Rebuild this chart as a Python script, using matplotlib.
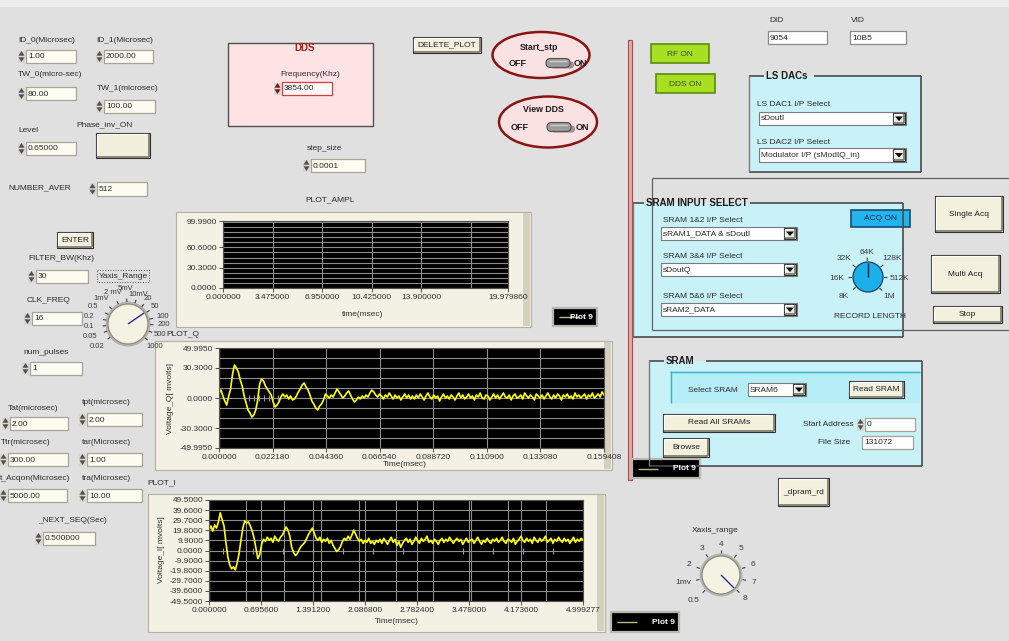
import numpy as np
import matplotlib
matplotlib.use("Agg")
import matplotlib.pyplot as plt
from matplotlib.patches import Rectangle, Ellipse, Circle, Polygon, FancyBboxPatch

# ---- values ----
# PLOT_Q : Voltage_Q (mV), evenly sampled from 0 to q_end msec
q_end = 0.159408
q_vals = [5, 8, 2, -3, -7, 2, 9, 24, 33, 30,
          26, 18, 12, 2, -5, -12, -15, -19, -17, -12,
          -2, 14, 19, 17, 12, 9, 6, 3, -4, -9,
          -7, -4, 1, 4, 1, 3, -1, 2, -2, -1,
          2, 6, 9, 13, 15, 11, 8, 3, -3, -6,
          -10, -12, -8, -6, -2, 4, 2, 0, 3, 1,
          5, 9, 6, 3, 0, 2, 5, 7, 3, -1,
          -4, -2, 1, -1, 2, 0, 3, 1, 5, 8,
          6, 3, 1, 4, 2, -1, 3, 1, 5, 2,
          -1, 3, 0, 2, -2, 1, 4, 0, 3, -1,
          2, -1, 3, 0, 4, 1, -2, 2, 5, 1,
          -1, 3, 0, 2, -3, 1, 4, 0, 2, -1,
          3, 1, -2, 2, 5, 0, 3, -1, 1, 4,
          0, 2, -2, 3, 1, 5, 0, -1, 3, 2,
          -2, 1, 4, 0, 3, -1, 2, 5, 1, 0,
          3, -2, 2, 4, 0, 1, 3, -1, 5, 2,
          0, 3, 1, -2, 4, 2, 0, 3, -1, 2,
          5, 1, -1, 3, 0, 4, 2, -2, 3, 1,
          4, 0, 2, -1, 5, 1, 3, 0, 2, 4,
          -1, 3, 1, 5, 0, 2, 4, 1, 6, 3]
q_spike = [-49.995, 49.995]
q_marks = [0.0125, 0.0145, 0.0165, 0.0185, 0.0205, 0.0225, 0.0245]
q_xticks = [0.0, 0.02218, 0.04436, 0.06654, 0.08872, 0.1109, 0.13308, 0.159408]
q_yticks = [49.995, 30.3, 0.0, -30.3, -49.995]

# PLOT_I : Voltage_I (mV), evenly sampled from 0 to i_end msec
i_end = 4.999277
i_vals = [20, 24, 19, 25, 22, 28, 37, 30, 24, 8,
          -6, -14, -18, -16, -19, -12, -3, 10, 22, 29,
          27, 28, 24, 19, 12, 2, -8, -4, 6, 11,
          9, 13, 10, 12, 8, 14, 11, 9, 13, 15,
          19, 23, 20, 14, 3, -2, -5, -3, 1, 4,
          6, 8, 12, 16, 19, 22, 17, 12, 10, 13,
          8, 11, 9, 12, 7, 10, 5, 2, -1, 1,
          4, 9, 12, 10, 14, 11, 15, 20, 16, 12,
          9, 11, 7, 10, 8, 12, 7, 9, 6, 10,
          8, 11, 7, 12, 9, 6, 10, 13, 8, 11,
          5, 9, 3, 7, 10, 12, 8, 11, 6, 9,
          13, 10, 7, 12, 9, 11, 14, 8, 10, 7,
          11, 9, 6, 10, 12, 8, 11, 9, 13, 10,
          7, 10, 12, 9, 11, 6, 9, 12, 8, 10,
          11, 7, 10, 13, 9, 6, 10, 8, 12, 9,
          7, 11, 9, 12, 8, 10, 13, 9, 7, 11,
          10, 8, 12, 6, 9, 11, 14, 10, 8, 12,
          9, 11, 7, 13, 10, 8, 12, 9, 11, 14,
          8, 10, 12, 7, 11, 9, 13, 10, 8, 12,
          9, 11, 7, 10, 13, 8, 11, 9, 12, 10]
i_spike = [-49.5, 3.0]
i_marks = [0.19, 0.59, 0.99, 1.39, 1.79, 2.19, 2.59, 3.0, 3.4, 3.8, 4.2, 4.6]
i_xticks = [0.0, 0.6956, 1.3912, 2.0868, 2.7824, 3.478, 4.1736, 4.999277]
i_xminor = [0.5, 1.0, 1.5, 2.0, 2.5, 3.0, 3.5, 4.0, 4.5]
i_yticks = [49.5, 39.6, 29.7, 19.8, 9.9, 0.0, -9.9, -19.8, -29.7, -39.6, -49.5]

# PLOT_AMPL : empty graph
ampl_end = 19.97986
ampl_xticks = [0.0, 3.475, 6.95, 10.425, 13.9, 19.97986]
ampl_xgrid = [3.475, 6.95, 10.425, 13.9, 17.375]
ampl_yticks = [0.0, 30.3, 60.6, 99.99]

W, H = 1009, 641
plt.rcParams['font.family'] = ['Liberation Sans', 'DejaVu Sans']

fig = plt.figure(figsize=(W / 100, H / 100), dpi=100)
fig.patch.set_facecolor('#e0e0e0')
bg = fig.add_axes([0, 0, 1, 1])
bg.set_xlim(0, W)
bg.set_ylim(H, 0)
bg.axis('off')


def txt(x, y, s, size=6, ha='left', va='center', color='#2a2a2a', weight='normal', z=5):
    bg.text(x, y, s, fontsize=size, ha=ha, va=va, color=color, fontweight=weight, zorder=z)


def rect(x0, y0, x1, y1, fc, ec='none', lw=0.8, z=1, ls='-'):
    bg.add_patch(Rectangle((x0, y0), x1 - x0, y1 - y0, fc=fc, ec=ec, lw=lw, zorder=z, ls=ls))


def line(xs, ys, color, lw=0.8, z=3):
    bg.plot(xs, ys, color=color, lw=lw, zorder=z, solid_capstyle='butt')


def bevel(x0, y0, x1, y1, face, z=2):
    rect(x0, y0, x1, y1, face, '#303030', 0.8, z)
    line([x0 + 1, x1 - 1], [y0 + 1.2, y0 + 1.2], 'white', 0.9, z + 0.1)
    line([x0 + 1.2, x0 + 1.2], [y0 + 1, y1 - 1], 'white', 0.9, z + 0.1)
    line([x0 + 1, x1 - 1], [y1 - 1.4, y1 - 1.4], '#76766a', 1.2, z + 0.1)
    line([x1 - 1.4, x1 - 1.4], [y0 + 1, y1 - 1], '#76766a', 1.2, z + 0.1)


def button(x0, y0, x1, y1, s='', face='#f3f1de', size=6, color='#202020'):
    bevel(x0, y0, x1, y1, face)
    if s:
        txt((x0 + x1) / 2, (y0 + y1) / 2, s, size, ha='center', color=color)


def spinner(x, yc, color='#505050'):
    rect(x, yc - 6, x + 7, yc + 6, '#d8d8d0', 'none', 0, 2)
    bg.add_patch(Polygon([[x + 0.5, yc - 0.8], [x + 6.5, yc - 0.8], [x + 3.5, yc - 5.5]],
                         closed=True, fc=color, ec='none', zorder=3))
    bg.add_patch(Polygon([[x + 0.5, yc + 0.8], [x + 6.5, yc + 0.8], [x + 3.5, yc + 5.5]],
                         closed=True, fc=color, ec='none', zorder=3))


def numbox(x0, y0, x1, y1, s, spin=True, fc='#fcfcf1', ec='#a4a49a', scol='#505050'):
    rect(x0, y0, x1, y1, fc, ec, 0.9, 2)
    if spin:
        spinner(x0 - 8, (y0 + y1) / 2, scol)
    txt(x0 + 2, (y0 + y1) / 2 + 0.5, s, 6)


def dropdown(x0, y0, x1, y1, s):
    rect(x0, y0, x1, y1, '#fefefe', '#7a7a7a', 0.8, 2)
    bevel(x1 - 13, y0 + 1, x1 - 1, y1 - 1, '#eceae0', z=3)
    xc, yc = x1 - 7, (y0 + y1) / 2
    bg.add_patch(Polygon([[xc - 4, yc - 2], [xc + 4, yc - 2], [xc, yc + 2.5]],
                         closed=True, fc='black', ec='none', zorder=4))
    txt(x0 + 2, yc + 0.5, s, 6)


def titled_box(x0, y0, x1, y1, title, tx0, tx1, fc='#c8f2f8'):
    rect(x0, y0, x1, y1, fc, 'none', 0, 1)
    line([x0, tx0], [y0, y0], '#4a4a4a', 1.2)
    line([tx1, x1], [y0, y0], '#4a4a4a', 1.2)
    line([x1, x1], [y0, y1], '#4a4a4a', 1.2)
    line([x0, x1], [y1, y1], '#4a4a4a', 1.2)
    line([x0, x0], [y0, y1], '#7a7a7a', 1.0)
    txt(tx0 + 2, y0, title, 7, weight='bold', color='#1a1a1a')


def plot_legend(x0, y0, x1, y1):
    yc = (y0 + y1) / 2
    rect(x0, y0, x1, y1, 'black', '#b8b8b0', 1.6, 3)
    line([x0 + 6, x0 + 26], [yc, yc], '#b8b88e', 1.0, 4)
    txt(x1 - 4, yc + 0.5, 'Plot 9', 6, ha='right', color='white', weight='bold')


def frame(x0, y0, x1, y1):
    rect(x0, y0, x1, y1, '#f2f1e3', '#b2b0a0', 0.8, 1)
    rect(x1 - 8, y0 + 1, x1 - 1, y1 - 1, '#d2d0be', 'none', 0, 1.1)


def knob(cx, cy, r, face, edge, pend, labels, ring=None, tick_r=None, pcol='#2a2aa0', lsize=6):
    if ring:
        bg.add_patch(Circle((cx, cy), r + 2.5, fc=ring, ec='none', zorder=2))
    bg.add_patch(Circle((cx, cy), r, fc=face, ec=edge, lw=0.9, zorder=3))
    line([cx, pend[0]], [cy, pend[1]], pcol, 1.0, 4)
    for s, dx, dy in labels:
        txt(cx + dx, cy + dy, s, lsize, ha='center', color='#3a3a3a')
        if tick_r:
            a = np.arctan2(dy, dx)
            line([cx + tick_r * np.cos(a), cx + (tick_r + 3.5) * np.cos(a)],
                 [cy + tick_r * np.sin(a), cy + (tick_r + 3.5) * np.sin(a)], '#404040', 0.8, 3)


def toggle(x0, yc):
    bg.add_patch(FancyBboxPatch((x0 + 4, yc - 1.5), 24, 7, boxstyle='round,pad=0,rounding_size=3.5',
                                fc='#5a4a4a', ec='none', alpha=0.55, zorder=3))
    bg.add_patch(FancyBboxPatch((x0, yc - 4.5), 24, 9, boxstyle='round,pad=0,rounding_size=4.5',
                                fc='#9c9c9c', ec='#505050', lw=0.8, zorder=4))
    line([x0 + 3, x0 + 21], [yc - 2.5, yc - 2.5], '#cfcfcf', 1.0, 5)


# ---- top strip ----
rect(0, 0, W, 7, '#ececec', 'none', 0, 0.5)

# ---- left column controls ----
txt(18, 40, 'ID_0(Microsec)')
numbox(26, 50, 76, 63, '1.00')
txt(96, 40, 'ID_1(Microsec)')
numbox(104, 50, 153, 63, '2000.00')
txt(18, 75, 'TW_0(micro-sec)')
numbox(26, 87, 76, 100, '80.00')
txt(97, 89, 'TW_1(microsec)')
numbox(104, 100, 155, 113, '100.00')
txt(76, 125, 'Phase_inv_ON')
bevel(96, 133, 150, 158, '#f1efdc')
txt(18, 131, 'Level')
numbox(26, 142, 76, 155, '0.65000')
txt(8, 188, 'NUMBER_AVER')
numbox(97, 182, 147, 196, '512')

button(57, 232, 93, 248, 'ENTER')
txt(28, 259, 'FILTER_BW(Khz)')
numbox(36, 270, 88, 283, '30')
rect(97, 270, 149, 282, 'none', '#505050', 0.7, 2, ls=':')
txt(123, 276, 'Yaxis_Range', 6, ha='center')
txt(27, 300, 'CLK_FREQ')
numbox(32, 312, 82, 325, '16')
txt(23, 352, 'num_pulses')
numbox(30, 362, 82, 375, '1')
txt(8, 408, 'Tat(microsec)')
numbox(10, 417, 68, 430, '2.00')
txt(82, 403, 'tpt(microsec)')
numbox(87, 413, 142, 426, '2.00')
txt(1, 442, 'Ttr(microsec)')
numbox(8, 453, 68, 466, '300.00')
txt(82, 442, 'tar(Microsec)')
numbox(87, 453, 142, 466, '1.00')
txt(0, 479, 't_Acqon(Microsec)')
txt(82, 479, 'tra(Microsec)')
numbox(8, 489, 67, 502, '5000.00')
numbox(87, 489, 142, 502, '10.00')
txt(38, 521, '_NEXT_SEQ(Sec)')
numbox(43, 532, 95, 545, '0.500000')

knob(128, 324, 20, '#f4f2e3', '#8a8a80',
     (144, 313),
     [('0.02', -31, 23), ('0.05', -38, 13), ('0.1', -39, 3), ('0.2', -39, -7),
      ('0.5', -35, -17), ('1mV', -27, -25), ('2 mV', -15, -31), ('5mV', -2, -36),
      ('10mV', 10, -30), ('20', 20, -25), ('50', 27, -17), ('100', 35, -8),
      ('200', 36, 1), ('500', 32, 11), ('1000', 27, 22)],
     ring='#b4b4b0', tick_r=22, lsize=5.5)

# ---- DDS box and switches ----
rect(228, 43, 373, 126, '#fde3e3', '#505050', 1.0, 1)
txt(305, 48, 'DDS', 7, ha='center', color='#b01818', weight='bold')
txt(310, 74, 'Frequency(Khz)', 6, ha='center')
numbox(282, 82, 332, 95, '3854.00', fc='#fffafa', ec='#d04040', scol='#8a1010')
button(413, 37, 481, 53, 'DELETE_PLOT', size=6)
txt(307, 148, 'step_size')
numbox(311, 159, 365, 172, '0.0001')

bg.add_patch(Ellipse((541, 55), 97, 46, fc='#fbe2e2', ec='#8a1414', lw=1.8, zorder=2))
txt(539, 47, 'Start_stp', 6.3, ha='center', weight='bold', color='#1a1a1a')
txt(518, 64, 'OFF', 6.5, ha='center', weight='bold', color='#1a1a1a')
toggle(546, 63)
txt(580, 64, 'ON', 6.5, ha='center', weight='bold', color='#1a1a1a')
bg.add_patch(Ellipse((548, 122), 98, 51, fc='#fbe2e2', ec='#8a1414', lw=1.8, zorder=2))
txt(543, 110, 'View DDS', 6.3, ha='center', weight='bold', color='#1a1a1a')
txt(520, 128, 'OFF', 6.5, ha='center', weight='bold', color='#1a1a1a')
toggle(547, 127)
txt(582, 128, 'ON', 6.5, ha='center', weight='bold', color='#1a1a1a')

# ---- graph frames ----
txt(330, 200, 'PLOT_AMPL', 6, ha='center')
frame(176, 212, 531, 327)
txt(166, 335, 'PLOT_Q', 6)
frame(155, 341, 612, 470)
txt(147, 483, 'PLOT_I', 6)
frame(148, 494, 605, 632)

plot_legend(553, 308, 597, 326)
plot_legend(632, 459, 700, 478)
plot_legend(611, 612, 679, 632)

# ---- red separator ----
rect(628, 40, 632, 480, '#e6aaaa', '#b04848', 0.8, 2)

# ---- right side ----
txt(769, 20, 'DID')
numbox(768, 31, 827, 44, '9054', spin=False, fc='#fefefe', ec='#8a8a8a')
txt(851, 20, 'VID')
numbox(850, 31, 906, 44, '10B5', spin=False, fc='#fefefe', ec='#8a8a8a')

rect(651, 44, 709, 63, '#a6e020', '#5d8a10', 1.2, 2)
txt(680, 54, 'RF ON', 6, ha='center', color='#3a4a20')
rect(656, 74, 715, 93, '#a6e020', '#5d8a10', 1.2, 2)
txt(685, 84, 'DDS ON', 6, ha='center', color='#3a4a20')

titled_box(749, 76, 921, 172, 'LS DACs', 764, 814)
txt(757, 105, 'LS DAC1 I/P Select')
dropdown(759, 112, 906, 125, 'sDoutI')
txt(757, 142, 'LS DAC2 I/P Select')
dropdown(759, 148, 906, 162, 'Modulator I/P (sModIQ_in)')

titled_box(633, 203, 903, 337, 'SRAM INPUT SELECT', 644, 750)
line([652, 1009], [178, 178], '#606060', 0.9, 3)
line([652, 652], [178, 330], '#606060', 0.9, 3)
line([652, 1009], [330, 330], '#606060', 0.9, 3)
txt(663, 220, 'SRAM 1&2 I/P Select')
dropdown(661, 227, 797, 240, 'sRAM1_DATA & sDoutI')
txt(663, 256, 'SRAM 3&4 I/P Select')
dropdown(661, 263, 797, 276, 'sDoutQ')
txt(663, 296, 'SRAM 5&6 I/P Select')
dropdown(661, 303, 797, 316, 'sRAM2_DATA')
rect(851, 210, 910, 227, '#22b4ec', '#1c4a6e', 1.2, 2)
txt(880, 218.5, 'ACQ ON', 6, ha='center', color='#1a2a50')
knob(868, 277, 15, '#1cb0ea', '#1a4060',
     (868, 263),
     [('64K', -1, -24), ('32K', -24, -19), ('128K', 24, -19), ('16K', -31, 1),
      ('512K', 31, 1), ('8K', -24, 20), ('1M', 21, 20)],
     tick_r=16, pcol='#1a1a30')
txt(870, 316, 'RECORD LENGTH', 6, ha='center')
button(935, 196, 1003, 232, 'Single Acq')
button(931, 255, 1000, 293, 'Multi Acq')
button(933, 306, 1002, 323, 'Stop')

titled_box(649, 361, 922, 466, 'SRAM', 664, 706)
rect(670, 371, 920, 403, '#b6eef8', 'none', 0, 1.5)
line([670, 920], [371.5, 371.5], '#3cb2c6', 1.0, 2)
line([670.5, 670.5], [371, 403], '#3cb2c6', 1.0, 2)
txt(688, 390, 'Select SRAM')
dropdown(748, 383, 806, 396, 'SRAM6')
button(849, 381, 904, 398, 'Read SRAM')
button(663, 414, 775, 432, 'Read All SRAMs')
txt(803, 425, 'Start Address')
numbox(865, 418, 915, 431, '0', fc='#fefefe')
txt(818, 443, 'File Size')
numbox(862, 436, 913, 449, '131072', spin=False, fc='#fefefe')
button(663, 438, 709, 457, 'Browse')
button(778, 478, 829, 506, '_dpram_rd')

txt(715, 530, 'Xaxis_range', 6, ha='center')
knob(721, 575, 19, '#f4f2e3', '#8a8a80',
     (734, 588),
     [('0.5', -27, 26), ('1mv', -38, 8), ('2', -32, -10), ('3', -19, -26),
      ('4', 0, -31), ('5', 20, -26), ('6', 32, -10), ('7', 33, 7), ('8', 24, 23)],
     ring='#b4b4b0', tick_r=22)


# ---- graphs ----
def px_axes(box):
    x0, y0, x1, y1 = box
    return fig.add_axes([x0 / W, 1 - y1 / H, (x1 - x0) / W, (y1 - y0) / H])


def style(a, box, xlab, xlab_pos, ylab=None, ylab_pos=None):
    x0, y0, x1, y1 = box
    a.set_facecolor('black')
    for sp in a.spines.values():
        sp.set_color('#505050')
        sp.set_linewidth(0.8)
    a.tick_params(labelsize=6, length=3, width=0.7, color='#505050', labelcolor='#303030', pad=1.2)
    a.tick_params(which='minor', length=0)
    a.grid(True, which='both', color='#8c8c8c', lw=0.8)
    a.set_axisbelow(True)
    a.set_xlabel(xlab, fontsize=6, color='#303030')
    a.xaxis.set_label_coords((xlab_pos[0] - x0) / (x1 - x0), (y1 - xlab_pos[1]) / (y1 - y0))
    if ylab:
        a.set_ylabel(ylab, fontsize=6, color='#303030')
        a.yaxis.set_label_coords((ylab_pos[0] - x0) / (x1 - x0), (y1 - ylab_pos[1]) / (y1 - y0))


# PLOT_AMPL
box_a = (223, 221, 508, 288)
axa = px_axes(box_a)
axa.set_xlim(0, ampl_end)
axa.set_ylim(0, 99.99)
axa.set_xticks(ampl_xticks)
axa.set_xticklabels(['%.6f' % v for v in ampl_xticks])
axa.set_xticks(ampl_xgrid, minor=True)
axa.set_yticks(ampl_yticks)
axa.set_yticklabels(['%.4f' % v for v in ampl_yticks])
axa.set_yticks(np.arange(0, 99.99, 7.575), minor=True)
style(axa, box_a, 'time(msec)', (363, 311))

# PLOT_Q
box_q = (219, 348, 604, 448)
axq = px_axes(box_q)
q_t = np.linspace(0, q_end, len(q_vals))
axq.plot(q_t, q_vals, color='#ffff00', lw=1.2)
axq.vlines(0, q_spike[0], q_spike[1], color='#ffff00', lw=1.6)
axq.plot(q_marks, [0] * len(q_marks), '|', color='#9a9a9a', ms=4, mew=0.8)
axq.set_xlim(0, q_end)
axq.set_ylim(-49.995, 49.995)
axq.set_xticks(q_xticks)
axq.set_xticklabels(['%.6f' % v for v in q_xticks])
axq.set_yticks(q_yticks)
axq.set_yticklabels(['%.4f' % v for v in q_yticks])
axq.set_yticks(np.linspace(-49.995, 49.995, 11), minor=True)
style(axq, box_q, 'Time(msec)', (405, 461), 'Voltage_Q[ mvolts]', (174, 398))

# PLOT_I
box_i = (209, 500, 583, 601)
axi = px_axes(box_i)
i_t = np.linspace(0, i_end, len(i_vals))
axi.plot(i_t, i_vals, color='#ffff00', lw=1.2)
axi.vlines(0, i_spike[0], i_spike[1], color='#ffff00', lw=1.6)
axi.plot(i_marks, [0] * len(i_marks), '|', color='#9a9a9a', ms=4, mew=0.8)
axi.set_xlim(0, i_end)
axi.set_ylim(-49.5, 49.5)
axi.set_xticks(i_xticks)
axi.set_xticklabels(['%.6f' % v for v in i_xticks])
axi.set_xticks(i_xminor, minor=True)
axi.set_yticks(i_yticks)
axi.set_yticklabels(['%.4f' % v for v in i_yticks])
style(axi, box_i, 'Time(msec)', (397, 618), 'Voltage_I[ mvolts]', (165, 550))

fig.savefig('out.png', dpi=100, facecolor=fig.get_facecolor())
